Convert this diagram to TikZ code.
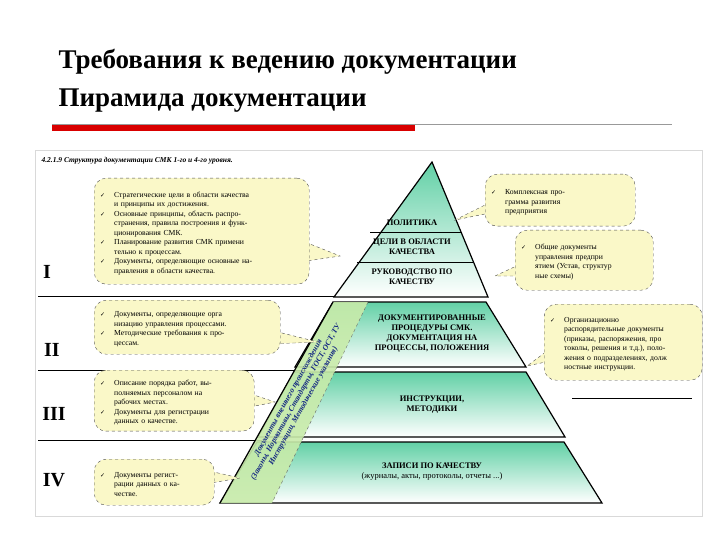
\documentclass[tikz,border=0pt]{standalone}
\usepackage{fontspec}
\setmainfont{Liberation Serif}
\newfontfamily\dvs{DejaVu Sans}
\usetikzlibrary{calc}
\newcommand\itm[1]{\par\noindent\hangindent=14pt\hangafter=1\makebox[14pt][l]{{\dvs\fontsize{6}{6}\selectfont ✓}}#1\par}
\newcommand\nl{\newline}
\definecolor{pgreen}{RGB}{70,200,150}
\definecolor{bandg}{RGB}{200,235,170}
\definecolor{cally}{RGB}{250,248,200}
\definecolor{navy}{RGB}{20,40,130}
\tikzset{
 callout/.style={draw=black!70,dashed,rounded corners=12pt,fill=cally,inner sep=6pt,font=\fontsize{7.7}{9.5}\selectfont,execute at begin node=\raggedright},
 tail/.style={draw=black!70,dashed,fill=cally},
 lvl/.style={draw=black,line width=1.2pt,top color=pgreen!85,bottom color=white},
 lvltext/.style={font=\bfseries\fontsize{8.5}{10}\selectfont,align=center},
 roman/.style={font=\bfseries\fontsize{20}{20}\selectfont},
 sep/.style={draw=black,line width=0.8pt}
}
\begin{document}
\begin{tikzpicture}[x=1pt,y=-1pt]
\useasboundingbox (0,0) rectangle (720,540);
\fill[white] (0,0) rectangle (720,540);
% title
\node[anchor=west,font=\bfseries\fontsize{27}{30}\selectfont] (t1) at (55,62) {Требования к ведению документации};
\node[anchor=west,font=\bfseries\fontsize{27}{30}\selectfont] (t2) at (55,101) {Пирамида документации};
\draw[black!40,line width=0.8pt] (52,124) -- (672,124);
\fill[red!85!black] (52,125) rectangle (415,131);
% image frame
\draw[black!15] (35,150) rectangle (702,516);
\node[anchor=west,font=\bfseries\itshape\fontsize{7.5}{9}\selectfont] (hdr) at (38,161) {4.2.1.9 Структура документации СМК 1-го и 4-го уровня.};
% separators
\draw[sep] (38,296) -- (340,296);
\draw[sep] (38,370) -- (305,370);
\draw[sep] (38,440) -- (262,440);
\draw[sep] (572,398) -- (692,398);
% pyramid levels
\draw[lvl] (432,162) -- (488,297) -- (334,297) -- cycle;
\draw[lvl] (333,302) -- (486,302) -- (526,367) -- (295,367) -- cycle;
\draw[lvl] (294,372) -- (526,372) -- (565,437) -- (258,437) -- cycle;
\draw[lvl] (257,442) -- (564,442) -- (602,503) -- (220,503) -- cycle;
% band
\fill[bandg,opacity=0.9] (333,302) -- (368,302) -- (272,503) -- (220,503) -- cycle;
\draw[black!60,dashed] (368,302) -- (272,503);
\draw[black,line width=1.2pt] (333,302) -- (220,503);
\node[rotate=61,font=\bfseries\itshape\fontsize{7.8}{8.6}\selectfont,text=navy,align=center] (band) at (296,402) {Документы внешнего происхождения\\(Законы, Нормативы, Стандарты, ГОСТ, ОСТ, ТУ\\Инструкции, Методические указания)};
% level I text
\draw[black,line width=0.8pt] (370,232) -- (462,232);
\draw[black,line width=0.8pt] (357,262) -- (474,262);
\node[lvltext] (pol) at (412,223) {ПОЛИТИКА};
\node[lvltext] (cel) at (412,247) {ЦЕЛИ В ОБЛАСТИ\\КАЧЕСТВА};
\node[lvltext] (ruk) at (412,277) {РУКОВОДСТВО ПО\\КАЧЕСТВУ};
\node[lvltext] (dok) at (432,334) {ДОКУМЕНТИРОВАННЫЕ\\ПРОЦЕДУРЫ СМК.\\ДОКУМЕНТАЦИЯ НА\\ПРОЦЕССЫ, ПОЛОЖЕНИЯ};
\node[lvltext] (ins) at (432,405) {ИНСТРУКЦИИ,\\МЕТОДИКИ};
\node[lvltext] (zap) at (432,472) {ЗАПИСИ ПО КАЧЕСТВУ\\{\mdseries (журналы, акты, протоколы, отчеты ...)}};
% roman numerals
\node[roman] (r1) at (47,272) {I};
\node[roman] (r2) at (52,350) {II};
\node[roman] (r3) at (54,414) {III};
\node[roman] (r4) at (54,480) {IV};
% callouts
\coordinate (k1) at (340,256);
\coordinate (k2) at (318,342);
\coordinate (k3) at (275,402);
\coordinate (k4) at (240,478);
\coordinate (k5) at (455,220);
\coordinate (k6) at (495,276);
\coordinate (k7) at (527,366);
\draw[tail] (300,240) -- (k1) -- (300,262);
\draw[tail] (270,330) -- (k2) -- (270,344);
\draw[tail] (245,392) -- (k3) -- (245,408);
\draw[tail] (205,470) -- (k4) -- (205,484);
\draw[tail] (495,200) -- (k5) -- (495,212);
\draw[tail] (525,262) -- (k6) -- (525,276);
\draw[tail] (555,345) -- (k7) -- (555,360);
\node[callout,text width=203pt,minimum height=106pt,anchor=north west] (c1) at (94,178) {\itm{Стратегические цели в области качества\nl и принципы их достижения.}\itm{Основные принципы, область распро-\nl странения, правила построения и функ-\nl ционирования СМК.}\itm{Планирование развития СМК примени\nl тельно к процессам.}\itm{Документы, определяющие основные на-\nl правления в области качества.}};
\node[callout,text width=174pt,minimum height=54pt,anchor=north west] (c2) at (94,300) {\itm{Документы, определяющие орга\nl низацию управления процессами.}\itm{Методические требования к про-\nl цессам.}};
\node[callout,text width=148pt,minimum height=58pt,anchor=north west] (c3) at (94,370) {\itm{Описание порядка работ, вы-\nl полняемых персоналом на\nl рабочих местах.}\itm{Документы для регистрации\nl данных о качестве.}};
\node[callout,text width=108pt,minimum height=46pt,anchor=north west] (c4) at (94,459) {\itm{Документы регист-\nl рации данных о ка-\nl честве.}};
\node[callout,text width=138pt,minimum height=52pt,anchor=north west] (c5) at (485,174) {\itm{Комплексная про-\nl грамма развития\nl предприятия}};
\node[callout,text width=126pt,minimum height=60pt,anchor=north west] (c6) at (515,230) {\itm{Общие документы\nl управления предпри\nl ятием (Устав, структур\nl ные схемы)}};
\node[callout,text width=146pt,minimum height=76pt,anchor=north west] (c7) at (544,304) {\itm{Организационно\nl распорядительные документы\nl (приказы, распоряжения, про\nl токолы, решения и т.д.), поло-\nl жения о подразделениях, долж\nl ностные инструкции.}};
\end{tikzpicture}
\end{document}
